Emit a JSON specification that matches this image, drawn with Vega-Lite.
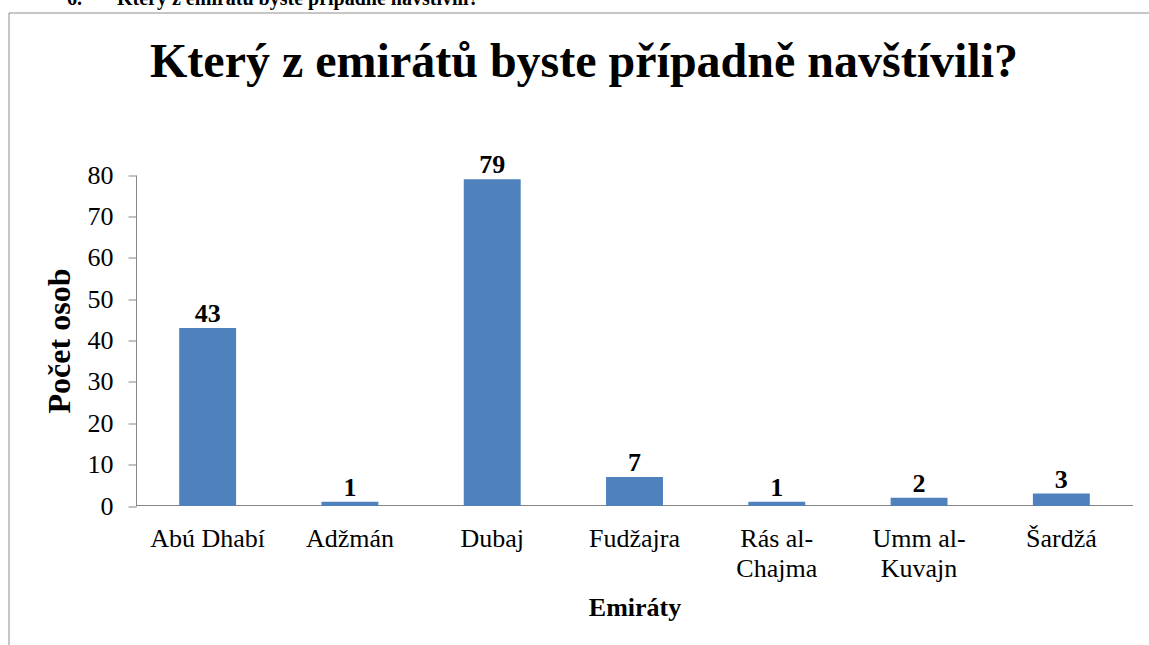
{
  "$schema": "https://vega.github.io/schema/vega-lite/v6.json",
  "width": 1140.5,
  "height": 632.5,
  "autosize": {"type": "none"},
  "padding": {"left": 8.5, "top": 12.5, "right": 0, "bottom": 0},
  "background": "white",
  "view": {"stroke": "#8e8e8e", "strokeWidth": 1, "strokeDash": [1140.5, 1773, 640]},
  "config": {
    "font": "Liberation Serif",
    "view": {"stroke": "#8e8e8e", "strokeWidth": 1, "strokeDash": [1140.5, 1773, 640]}
  },
  "title": {
    "text": "6.\u00a0\u00a0\u00a0\u00a0\u00a0\u00a0\u00a0Který z emirátů byste případně navštívili?",
    "anchor": "start",
    "frame": "group",
    "font": "Liberation Serif",
    "fontSize": 20,
    "fontWeight": "bold",
    "color": "#000000",
    "baseline": "alphabetic",
    "offset": 2,
    "dx": 58.5,
    "dy": 14
  },
  "data": {
    "values": [
      {"emirat": "Abú Dhabí", "pocet": 43},
      {"emirat": "Adžmán", "pocet": 1},
      {"emirat": "Dubaj", "pocet": 79},
      {"emirat": "Fudžajra", "pocet": 7},
      {"emirat": "Rás al-Chajma", "pocet": 1},
      {"emirat": "Umm al-Kuvajn", "pocet": 2},
      {"emirat": "Šardžá", "pocet": 3}
    ]
  },
  "encoding": {
    "y": {
      "field": "pocet",
      "type": "quantitative",
      "scale": {"domain": [0, 80], "range": [493.5, 162.5], "nice": false, "zero": true},
      "axis": {
        "orient": "left",
        "offset": -127.5,
        "zindex": 1,
        "values": [0, 10, 20, 30, 40, 50, 60, 70, 80],
        "grid": false,
        "domain": true,
        "domainColor": "#868686",
        "tickColor": "#868686",
        "ticks": true,
        "tickSize": 8,
        "labels": true,
        "labelPadding": 15,
        "labelFontSize": 26,
        "labelColor": "#000000",
        "title": "Počet osob",
        "titleFontSize": 32,
        "titleFontWeight": "bold",
        "titleColor": "#000000",
        "titleX": -67,
        "titleY": 328,
        "titleAngle": -90,
        "titleAlign": "center",
        "titleBaseline": "alphabetic"
      }
    }
  },
  "layer": [
    {
      "mark": {"type": "bar", "color": "#4F81BD"},
      "encoding": {
        "x": {
          "field": "emirat",
          "type": "nominal",
          "sort": null,
          "scale": {"range": [128, 1124], "paddingInner": 0.6, "paddingOuter": 0.3},
          "axis": {
            "orient": "bottom",
            "offset": -140,
            "domainColor": "#868686",
            "domainWidth": 1,
            "ticks": false,
            "tickSize": 0,
            "grid": false,
            "labelPadding": 41,
            "labelBaseline": "alphabetic",
            "labelAngle": 0,
            "labelFontSize": 26,
            "labelColor": "#000000",
            "labelLineHeight": 30,
            "labelOverlap": false,
            "labelLimit": 0,
            "labelExpr": "split(replace(datum.label, 'al-', 'al-|'), '|')",
            "title": "Emiráty",
            "titleFontSize": 26,
            "titleFontWeight": "bold",
            "titleColor": "#000000",
            "titleY": 110.5,
            "titleBaseline": "alphabetic"
          }
        }
      }
    },
    {
      "mark": {"type": "text", "font": "Liberation Serif", "fontSize": 26, "fontWeight": "bold", "baseline": "alphabetic", "dy": -6, "color": "#000000"},
      "encoding": {
        "x": {
          "field": "emirat",
          "type": "nominal",
          "sort": null,
          "axis": {
            "orient": "top",
            "offset": 0,
            "domain": false,
            "ticks": false,
            "labels": false,
            "grid": false,
            "minExtent": 0,
            "maxExtent": 0,
            "title": "Který z emirátů byste případně navštívili?",
            "titleFontSize": 48,
            "titleFontWeight": "bold",
            "titleColor": "#000000",
            "titleX": 575,
            "titleY": 64,
            "titleAlign": "center",
            "titleBaseline": "alphabetic"
          }
        },
        "text": {"field": "pocet", "type": "quantitative"}
      }
    }
  ],
  "resolve": {"axis": {"x": "independent"}}
}
